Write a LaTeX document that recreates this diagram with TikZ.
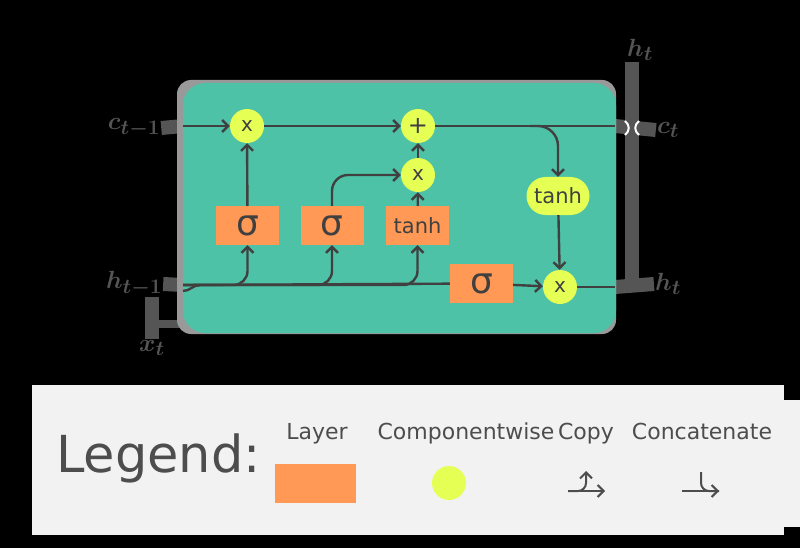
\documentclass[tikz,border=0pt]{standalone}
\usepackage{fontspec}
\setmainfont{DejaVu Sans}
\usetikzlibrary{arrows.meta}
\definecolor{cellteal}{HTML}{4EC2A6}
\definecolor{cellrim}{HTML}{999999}
\definecolor{layerorange}{HTML}{FF9955}
\definecolor{pointyellow}{HTML}{E5FF55}
\definecolor{wiregray}{HTML}{404040}
\definecolor{labelgray}{HTML}{555555}
\definecolor{legendbg}{HTML}{F2F2F2}
\definecolor{textgray}{HTML}{4D4D4D}

\begin{document}
\begin{tikzpicture}[
    x=1pt, y=-1pt,
    layer/.style={fill=layerorange, minimum width=63pt, minimum height=39pt, inner sep=0pt, text=wiregray},
    pointwise/.style={circle, fill=pointyellow, minimum size=34pt, inner sep=0pt, text=wiregray, font=\fontsize{20}{20}\selectfont},
    wire/.style={draw=wiregray, line width=2.4pt},
    outwire/.style={draw=labelgray, line width=14pt},
    outlabel/.style={text=labelgray, font=\fontsize{30}{30}\selectfont\boldmath, inner sep=1pt},
    lgtext/.style={text=textgray, font=\fontsize{22}{22}\selectfont, anchor=base},
    lgwire/.style={draw=textgray, line width=2pt},
    >={Straight Barb[length=6pt, width=12pt]},
]
    \useasboundingbox (0,0) rectangle (800,548);
    \fill[black] (0,0) rectangle (800,548);

    % wires and labels outside the cell
    \node[outlabel] (cprev) at (134,128) {$c_{t-1}$};
    \node[outlabel] (hprev) at (134,284) {$h_{t-1}$};
    \node[outlabel] (xin) at (152,348) {$x_t$};
    \node[outlabel] (cnext) at (668,130) {$c_t$};
    \node[outlabel] (hnext) at (668,284) {$h_t$};
    \node[outlabel] (hup) at (640,50) {$h_t$};
    \coordinate (cin) at (183,126);
    \coordinate (hin) at (183,285);
    \coordinate (cout) at (615,126);
    \coordinate (hout) at (615,287);
    \coordinate (hsplit) at (632,287);
    \coordinate (xjoin) at (151,324);
    \coordinate (xedge) at (183,324);
    \draw[outwire] (cprev.east) -- (cin);
    \draw[outwire] (hprev.east) -- (hin);
    \draw[outwire] (xin.north) -- (hprev.south -| xin.north);
    \draw[line width=8pt, labelgray] (xjoin) -- (xedge);
    \draw[outwire] (hup.south -| hsplit) -- (hsplit);
    \draw[outwire] (cout) -- (cnext.west);
    \draw[outwire] (hout) -- (hnext.west);
    \draw[white, line width=2pt] (625,121) .. controls (630,125) and (630,131) .. (625,135);
    \draw[white, line width=2pt] (639,121) .. controls (634,125) and (634,131) .. (639,135);

    % cell body
    \fill[cellrim, rounded corners=14pt] (177,80) rectangle (616,334);
    \fill[cellteal, rounded corners=22pt] (183,83) rectangle (616,333);

    \node[pointwise] (m1) at (247,126) {x};
    \node[pointwise, font=\fontsize{24}{24}\selectfont] (plus) at (418,126) {+};
    \node[pointwise] (m2) at (418,175) {x};
    \node[pointwise] (m3) at (560,287) {x};
    \node[fill=pointyellow, rounded corners=19pt, minimum width=63pt, minimum height=38pt, inner sep=0pt, text=wiregray, font=\fontsize{21}{21}\selectfont] (tc) at (558,196) {tanh};

    \node[layer, font=\fontsize{36}{36}\selectfont] (s1) at (247.5,225.5) {σ};
    \node[layer, font=\fontsize{36}{36}\selectfont] (s2) at (332,225.5) {σ};
    \node[layer, font=\fontsize{21}{21}\selectfont] (tb) at (417.5,225.5) {tanh};
    \node[layer, font=\fontsize{36}{36}\selectfont] (s3) at (481.5,283.5) {σ};

    \coordinate (csplit) at (530,126);

    \draw[wire, ->] (cin) -- (m1);
    \draw[wire, ->] (m1) -- (plus);
    \draw[wire] (plus) -- (cout);
    \draw[wire, ->, rounded corners=20pt] (csplit) -| (tc);
    \draw[wire, ->] (m2) -- (plus);
    \draw[wire, ->] (s1) -- (m1);
    \draw[wire, ->, rounded corners=16pt] (s2) |- (m2);
    \draw[wire, ->] (tb) -- (m2);
    \draw[wire, ->] (tc) -- (m3);
    \draw[wire, ->] (s3) -- (m3);
    \draw[wire] (m3) -- (hout);

    \draw[wire] (hin) -- (s3);
    \draw[wire, ->, rounded corners=14pt] (hin) -| (s1);
    \draw[wire, ->, rounded corners=14pt] (hin) -| (s2);
    \draw[wire, ->, rounded corners=14pt] (hin) -| (tb);
    \draw[wire] (hin) ++(0,6) to[out=0, in=180] (200,285);

    % legend
    \fill[legendbg] (32,385) rectangle (784,535);
    \fill[legendbg] (784,400) rectangle (800,527);
    \node[text=textgray, font=\fontsize{51}{51}\selectfont, anchor=base west, inner sep=0pt] (lgtitle) at (56,472) {Legend:};
    \node[lgtext] (lglayertxt) at (317,439) {Layer};
    \node[lgtext] (lgpointtxt) at (466,439) {Componentwise};
    \node[lgtext] (lgcopytxt) at (586,439) {Copy};
    \node[lgtext] (lgcattxt) at (702,439) {Concatenate};
    \node[fill=layerorange, minimum width=81pt, minimum height=39pt, inner sep=0pt] (lglayer) at (315.5,483.5) {};
    \node[circle, fill=pointyellow, minimum size=34pt, inner sep=0pt] (lgpoint) at (449,483) {};

    \coordinate (cpyA) at (568,491);
    \coordinate (cpyB) at (605,491);
    \coordinate (cpyC) at (586,471);
    \draw[lgwire, ->] (cpyA) -- (cpyB);
    \draw[lgwire, ->, rounded corners=8pt] (cpyA) -| (cpyC);

    \coordinate (catA) at (682,491);
    \coordinate (catB) at (719,491);
    \coordinate (catC) at (701,472);
    \draw[lgwire, ->] (catA) -- (catB);
    \draw[lgwire, rounded corners=8pt] (catC) |- (catB);
\end{tikzpicture}
\end{document}
